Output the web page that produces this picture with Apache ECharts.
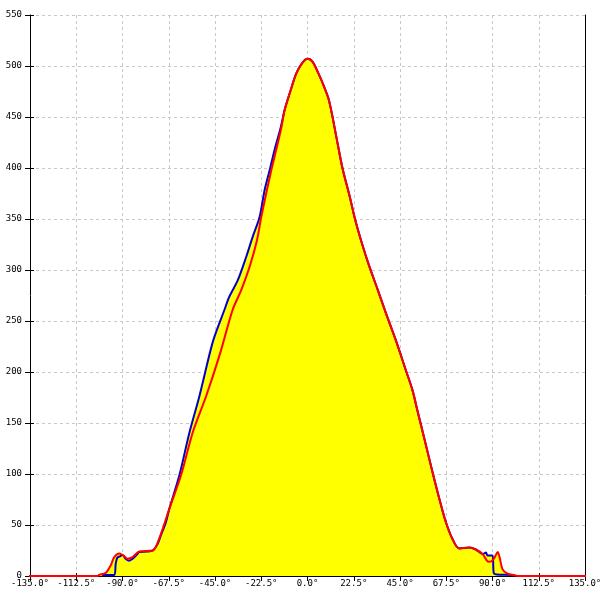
<!DOCTYPE html>
<html>
<head>
<meta charset="utf-8">
<script src="https://cdn.jsdelivr.net/npm/echarts@6/dist/echarts.min.js"></script>
<style>html,body{margin:0;padding:0;background:#fff}#c{width:600px;height:600px}</style>
</head>
<body>
<div id="c"></div>
<script>
// Angles (degrees) and values for the blue curve
const blueAngles = [-100, -94, -93.3, -92.5, -91, -90, -88.5, -86.7, -85, -83, -81.8, -78, -75.3, -73, -71.3, -69, -67.2, -62.3, -57.4, -52.5, -46, -40.4, -38, -33.9, -29.8, -26.6, -23.3, -20.9, -18.4, -16, -13, -11.1, -8.7, -5.4, -2.5, 0, 2.5, 5.7, 8, 10.5, 13.8, 17, 20.3, 23.5, 26.8, 30, 34.1, 38.1, 43, 47.8, 51.1, 53.5, 56.8, 60.8, 64.1, 67.3, 70.6, 73.8, 78.7, 81.9, 85.2, 86.8, 87.6, 90, 90.6, 92, 100, 101];
const blueValues = [1, 1, 12, 18, 19.5, 20.5, 17, 15, 17, 21, 23.5, 24, 25, 31, 40, 52, 66, 99, 141, 177, 230, 261, 274, 290, 313, 333, 352, 378, 398, 418, 440, 457, 473, 493, 503, 507, 504, 491, 480, 466, 433, 400, 374, 347, 324, 304, 281, 258, 231, 202, 182, 162, 135, 102, 76, 53, 36, 27, 28, 26, 21.5, 23, 20, 20, 3, 1.5, 1, 0];

// Angles (degrees) and values for the red curve
const redAngles = [-150, -102, -101.4, -98.2, -95.7, -94, -91.6, -89.5, -87.6, -85.1, -81.8, -75.3, -72.1, -67.2, -61.5, -55.8, -49.2, -42.7, -36.4, -32.3, -28.2, -24.6, -22.5, -20.1, -17.6, -15.2, -12.7, -11.1, -8.7, -5.4, -2.5, 0, 2.5, 5.7, 8, 10.5, 13.8, 17, 20.3, 23.5, 26.8, 30, 34.1, 38.1, 43, 47.8, 51.1, 53.5, 56.8, 60.8, 64.1, 67.3, 70.6, 73.8, 78.7, 81.9, 85.2, 88.1, 89.5, 91, 92.5, 93.5, 94.9, 97.3, 100.6, 102, 150];
const redValues = [0, 0, 1, 3, 10.5, 18.5, 22, 20, 17, 18.6, 24, 25, 37, 66, 99, 141, 177, 217, 261, 280, 303, 329, 352, 375, 398, 418, 440, 457, 473, 493, 503, 507, 504, 491, 480, 466, 433, 400, 374, 347, 324, 304, 281, 258, 231, 202, 182, 162, 135, 102, 76, 53, 36, 27, 28, 26, 21.5, 14, 14.5, 18, 23.5, 18, 6.5, 2.3, 0.7, 0, 0];

const blueData = blueAngles.map((a, i) => [a, blueValues[i]]);
const redData = redAngles.map((a, i) => [a, redValues[i]]);

const font = { fontFamily: 'DejaVu Sans Mono', fontSize: 9, color: '#000' };
const chart = echarts.init(document.getElementById('c'), null, { renderer: 'canvas' });
chart.setOption({
  animation: false,
  grid: { left: 30, right: 15, top: 15, bottom: 24, containLabel: false, outerBoundsMode: 'none' },
  xAxis: [{
    type: 'value', min: -135, max: 135, interval: 22.5,
    axisLine: { show: true, onZero: false, lineStyle: { color: '#000', width: 1 } },
    axisTick: { show: true, length: 5, lineStyle: { color: '#000' } },
    axisLabel: Object.assign({ margin: 3, formatter: v => v.toFixed(1) + '°' }, font),
    splitLine: { show: true, lineStyle: { color: '#c8c8c8', type: [3, 3] } }
  }, {
    type: 'value', min: -135, max: 135, interval: 22.5, position: 'bottom',
    axisLine: { show: false, onZero: false },
    axisTick: { show: true, inside: true, length: 3, lineStyle: { color: '#000' } },
    axisLabel: { show: false }, splitLine: { show: false }
  }],
  yAxis: [{
    type: 'value', min: 0, max: 550, interval: 50,
    axisLine: { show: true, onZero: false, lineStyle: { color: '#000', width: 1 } },
    axisTick: { show: true, length: 5, lineStyle: { color: '#000' } },
    axisLabel: Object.assign({ margin: 8 }, font),
    splitLine: { show: true, lineStyle: { color: '#c8c8c8', type: [3, 3] } }
  }, {
    type: 'value', min: 0, max: 550, interval: 50, position: 'left',
    axisLine: { show: false, onZero: false },
    axisTick: { show: true, inside: true, length: 4, lineStyle: { color: '#000' } },
    axisLabel: { show: false }, splitLine: { show: false }
  }, {
    type: 'value', min: 0, max: 550, interval: 50, position: 'right',
    axisLine: { show: true, onZero: false, lineStyle: { color: '#000', width: 1 } },
    axisTick: { show: false }, axisLabel: { show: false }, splitLine: { show: false }
  }],
  series: [
    { type: 'line', data: blueData, smooth: 0.3, showSymbol: false, z: 1,
      lineStyle: { width: 0 }, areaStyle: { color: '#ffff00', opacity: 1 } },
    { type: 'line', data: redData, smooth: 0.3, showSymbol: false, z: 1,
      lineStyle: { width: 0 }, areaStyle: { color: '#ffff00', opacity: 1 } },
    { type: 'line', data: blueData, smooth: 0.3, showSymbol: false, z: 3,
      lineStyle: { width: 2, color: '#0000cc' } },
    { type: 'line', data: redData, smooth: 0.3, showSymbol: false, z: 4, clip: false,
      lineStyle: { width: 2, color: '#ff0000' } }
  ]
});
</script>
</body>
</html>
